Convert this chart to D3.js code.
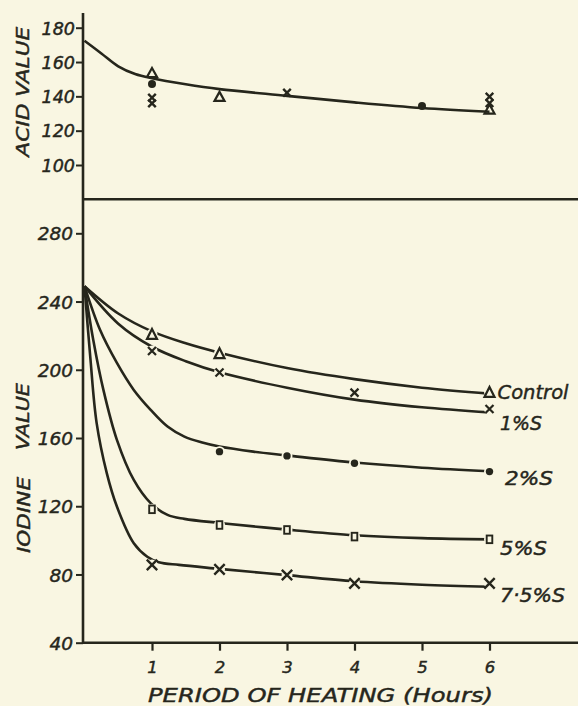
<!DOCTYPE html>
<html>
<head>
<meta charset="utf-8">
<script src="https://cdn.jsdelivr.net/npm/d3@7"></script>
<style>
  body { margin: 0; background: #f9f6e2; }
  svg { display: block; }
  text { font-family: "DejaVu Sans", sans-serif; font-style: italic; fill: #26261c; stroke: #26261c; stroke-width: 0.45px; }
</style>
</head>
<body>
<svg id="chart" width="578" height="706"></svg>
<script>
// ---- data ----
var hours = [1, 2, 3, 4, 5, 6]; // x ticks (hours of heating)
var acidTicks = [100, 120, 140, 160, 180];
var iodineTicks = [40, 80, 120, 160, 200, 240, 280];

// acid value: fitted curve + observed points
var acidCurve = [[0, 172.4], [0.25, 165], [0.5, 157.5], [0.75, 153], [1, 150.5], [1.5, 147], [2, 144.2], [3, 140.3], [4, 136.5], [5, 133.2], [6, 131]];
var acidTriangles = [[1, 153.9], [2, 140], [6, 132.6]];
var acidDots = [[1, 147.2], [5, 134.4]];
var acidCrosses = [[1, 139.2], [1, 135.9], [3, 142.1], [6, 139.8], [6, 136]];

// iodine value: fitted curves
var controlCurve = [[0, 249], [0.5, 233], [1, 222.5], [1.5, 215.5], [2, 210], [3, 201], [4, 194.5], [5, 189.5], [6, 186]];
var s1Curve = [[0, 249], [0.5, 227], [1, 213.5], [1.5, 205], [2, 198.5], [3, 189.5], [4, 182.5], [5, 178], [6, 175]];
var s2Curve = [[0, 249], [0.23, 223.4], [0.48, 204], [0.73, 188.2], [0.98, 176.5], [1.23, 166.7], [1.48, 160.8], [1.73, 157.5], [2, 155], [2.5, 152], [3, 149.8], [4, 145.6], [5, 142.6], [6, 140.5]];
var s5Curve = [[0, 249], [0.13, 217.5], [0.28, 188.2], [0.48, 158.9], [0.73, 135.4], [0.98, 121.8], [1.23, 114.9], [1.48, 112.6], [2, 110.2], [3, 106.3], [4, 103], [5, 101.3], [6, 100.6]];
var s75Curve = [[0, 249], [0.085, 207.7], [0.18, 168.7], [0.33, 139.4], [0.48, 119.8], [0.73, 98.3], [0.93, 90.4], [1.1, 87.2], [1.4, 85.6], [2, 83.3], [3, 79.6], [4, 76], [5, 74], [6, 72.8]];

// iodine value: observed points
var controlPts = [[1, 221], [2, 209.7], [6, 187]];
var s1Pts = [[1, 211], [2, 198.4], [4, 186.6], [6, 177]];
var s2Pts = [[2, 152], [3, 149.5], [4, 145.2], [6, 140.3]];
var s5Pts = [[1, 118.2], [2, 109], [3, 106.1], [4, 102.2], [6, 100.6]];
var s75Pts = [[1, 85.6], [2, 83], [3, 79.7], [4, 74.8], [6, 74.8]];

var seriesNames = ["Control", "1%S", "2%S", "5%S", "7·5%S"];

// ---- drawing ----
var ink = "#26261c";
var paper = "#f9f6e2";
var svg = d3.select("#chart");

var x = d3.scaleLinear().domain([0, 6]).range([84.5, 489.5]);
var yAcid = d3.scaleLinear().domain([100, 180]).range([165, 27.7]);
var yIod = d3.scaleLinear().domain([40, 280]).range([642.7, 233.3]);

var iodSeries = [
  { curve: controlCurve, pts: controlPts, shape: "tri", name: seriesNames[0], dx: 8, dy: 7, len: 71 },
  { curve: s1Curve, pts: s1Pts, shape: "cross", name: seriesNames[1], dx: 10.5, dy: 21, len: 42 },
  { curve: s2Curve, pts: s2Pts, shape: "dot", name: seriesNames[2], dx: 15.5, dy: 13.5, len: 48 },
  { curve: s5Curve, pts: s5Pts, shape: "square", name: seriesNames[3], dx: 10.5, dy: 16, len: 47 },
  { curve: s75Curve, pts: s75Pts, shape: "bigcross", name: seriesNames[4], dx: 10.5, dy: 19, len: 65 }
];

function crossPath(cx, cy, s) { //simple x marker
  return "M" + (cx - s) + "," + (cy - s) + "L" + (cx + s) + "," + (cy + s) +
    "M" + (cx - s) + "," + (cy + s) + "L" + (cx + s) + "," + (cy - s);
}
function triPath(cx, cy, w, h) { //open triangle
  return "M" + cx + "," + (cy - h / 2) + "L" + (cx + w / 2) + "," + (cy + h / 2) + "L" + (cx - w / 2) + "," + (cy + h / 2) + "Z";
}

function drawMarker(g, shape, cx, cy) {
  if (shape === "tri") {
    g.append("path").attr("d", triPath(cx, cy, 10, 10)).attr("fill", "none").attr("stroke", ink).attr("stroke-width", 2.2);
  } else if (shape === "cross") {
    g.append("path").attr("d", crossPath(cx, cy, 4)).attr("stroke", ink).attr("stroke-width", 2.2);
  } else if (shape === "bigcross") {
    g.append("path").attr("d", crossPath(cx, cy, 5.2)).attr("stroke", ink).attr("stroke-width", 2.4);
  } else if (shape === "dot") {
    g.append("circle").attr("cx", cx).attr("cy", cy).attr("r", 3.7).attr("fill", ink);
  } else if (shape === "square") {
    g.append("rect").attr("x", cx - 2.8).attr("y", cy - 3.8).attr("width", 5.6).attr("height", 7.6)
      .attr("fill", paper).attr("stroke", ink).attr("stroke-width", 1.9);
  }
}

// axis frame
svg.append("line").attr("x1", 83).attr("x2", 83).attr("y1", 13).attr("y2", 644)
  .attr("stroke", ink).attr("stroke-width", 2.6);
svg.append("line").attr("x1", 82).attr("x2", 578).attr("y1", 199.3).attr("y2", 199.3)
  .attr("stroke", ink).attr("stroke-width", 2.6);
svg.append("line").attr("x1", 82).attr("x2", 578).attr("y1", 642.7).attr("y2", 642.7)
  .attr("stroke", ink).attr("stroke-width", 2.6);

// y axis of the acid panel
var acidAxis = svg.append("g").attr("transform", "translate(83,0)").attr("color", ink)
  .call(d3.axisLeft(yAcid).tickValues(acidTicks).tickSize(7).tickPadding(1));
acidAxis.select(".domain").remove();
acidAxis.selectAll("line").attr("stroke-width", 2);
acidAxis.selectAll("text").style("font-size", "17.5px").attr("dy", "0.36em");

// y axis of the iodine panel
var iodAxis = svg.append("g").attr("transform", "translate(83,0)").attr("color", ink)
  .call(d3.axisLeft(yIod).tickValues(iodineTicks).tickSize(7).tickPadding(3));
iodAxis.select(".domain").remove();
iodAxis.selectAll("line").attr("stroke-width", 2);
iodAxis.selectAll("text").style("font-size", "18.5px").attr("dy", "0.36em");

// x axis
var xAxis = svg.append("g").attr("transform", "translate(0,642.7)").attr("color", ink)
  .call(d3.axisBottom(x).tickValues(hours).tickSize(8).tickPadding(11).tickFormat(d3.format("d")));
xAxis.select(".domain").remove();
xAxis.selectAll("line").attr("stroke-width", 2.2);
xAxis.selectAll("text").style("font-size", "16.5px");

// axis titles
svg.append("text").attr("transform", "translate(28.5,91.7) rotate(-90)")
  .attr("text-anchor", "middle").style("font-size", "18px")
  .attr("textLength", 130).attr("lengthAdjust", "spacingAndGlyphs").text("ACID VALUE");
svg.append("text").attr("transform", "translate(29,416.5) rotate(-90)")
  .attr("text-anchor", "middle").style("font-size", "18px")
  .attr("textLength", 67).attr("lengthAdjust", "spacingAndGlyphs").text("VALUE");
svg.append("text").attr("transform", "translate(29.5,515) rotate(-90)")
  .attr("text-anchor", "middle").style("font-size", "18px")
  .attr("textLength", 76).attr("lengthAdjust", "spacingAndGlyphs").text("IODINE");
svg.append("text").attr("x", 148).attr("y", 702)
  .style("font-size", "20px").attr("textLength", 345).attr("lengthAdjust", "spacingAndGlyphs")
  .text("PERIOD OF HEATING (Hours)");

// acid panel curve + points
var acidLine = d3.line().x(d => x(d[0])).y(d => yAcid(d[1])).curve(d3.curveCatmullRom.alpha(0.5));
svg.append("path").datum(acidCurve).attr("d", acidLine)
  .attr("fill", "none").attr("stroke", ink).attr("stroke-width", 2.6);

var acidMarks = svg.append("g");
acidTriangles.forEach(function (d) {
  acidMarks.append("path").attr("d", triPath(x(d[0]), yAcid(d[1]), 10, 9))
    .attr("fill", "none").attr("stroke", ink).attr("stroke-width", 2.2);
});
acidDots.forEach(function (d) {
  acidMarks.append("circle").attr("cx", x(d[0])).attr("cy", yAcid(d[1])).attr("r", 4).attr("fill", ink);
});
acidCrosses.forEach(function (d) {
  acidMarks.append("path").attr("d", crossPath(x(d[0]), yAcid(d[1]), 3.8))
    .attr("stroke", ink).attr("stroke-width", 2.4);
});

// iodine panel curves
var iodLine = d3.line().x(d => x(d[0])).y(d => yIod(d[1])).curve(d3.curveCatmullRom.alpha(0.5));
svg.append("g").selectAll("path")
  .data(iodSeries)
  .enter()
  .append("path")
  .attr("d", d => iodLine(d.curve))
  .attr("fill", "none")
  .attr("stroke", ink)
  .attr("stroke-width", 2.6);

// iodine panel markers (with a paper halo so lines break at the points)
iodSeries.forEach(function (s) {
  var g = svg.append("g");
  s.pts.forEach(function (d) {
    g.append("circle").attr("cx", x(d[0])).attr("cy", yIod(d[1])).attr("r", 5.5).attr("fill", paper);
    drawMarker(g, s.shape, x(d[0]), yIod(d[1]));
  });
});

// series labels at the right end
svg.append("g").selectAll("text")
  .data(iodSeries)
  .enter()
  .append("text")
  .attr("x", d => x(6) + d.dx)
  .attr("y", d => yIod(d.pts[d.pts.length - 1][1]) + d.dy)
  .style("font-size", "20px")
  .attr("textLength", d => d.len)
  .attr("lengthAdjust", "spacingAndGlyphs")
  .text(d => d.name);
</script>
</body>
</html>
